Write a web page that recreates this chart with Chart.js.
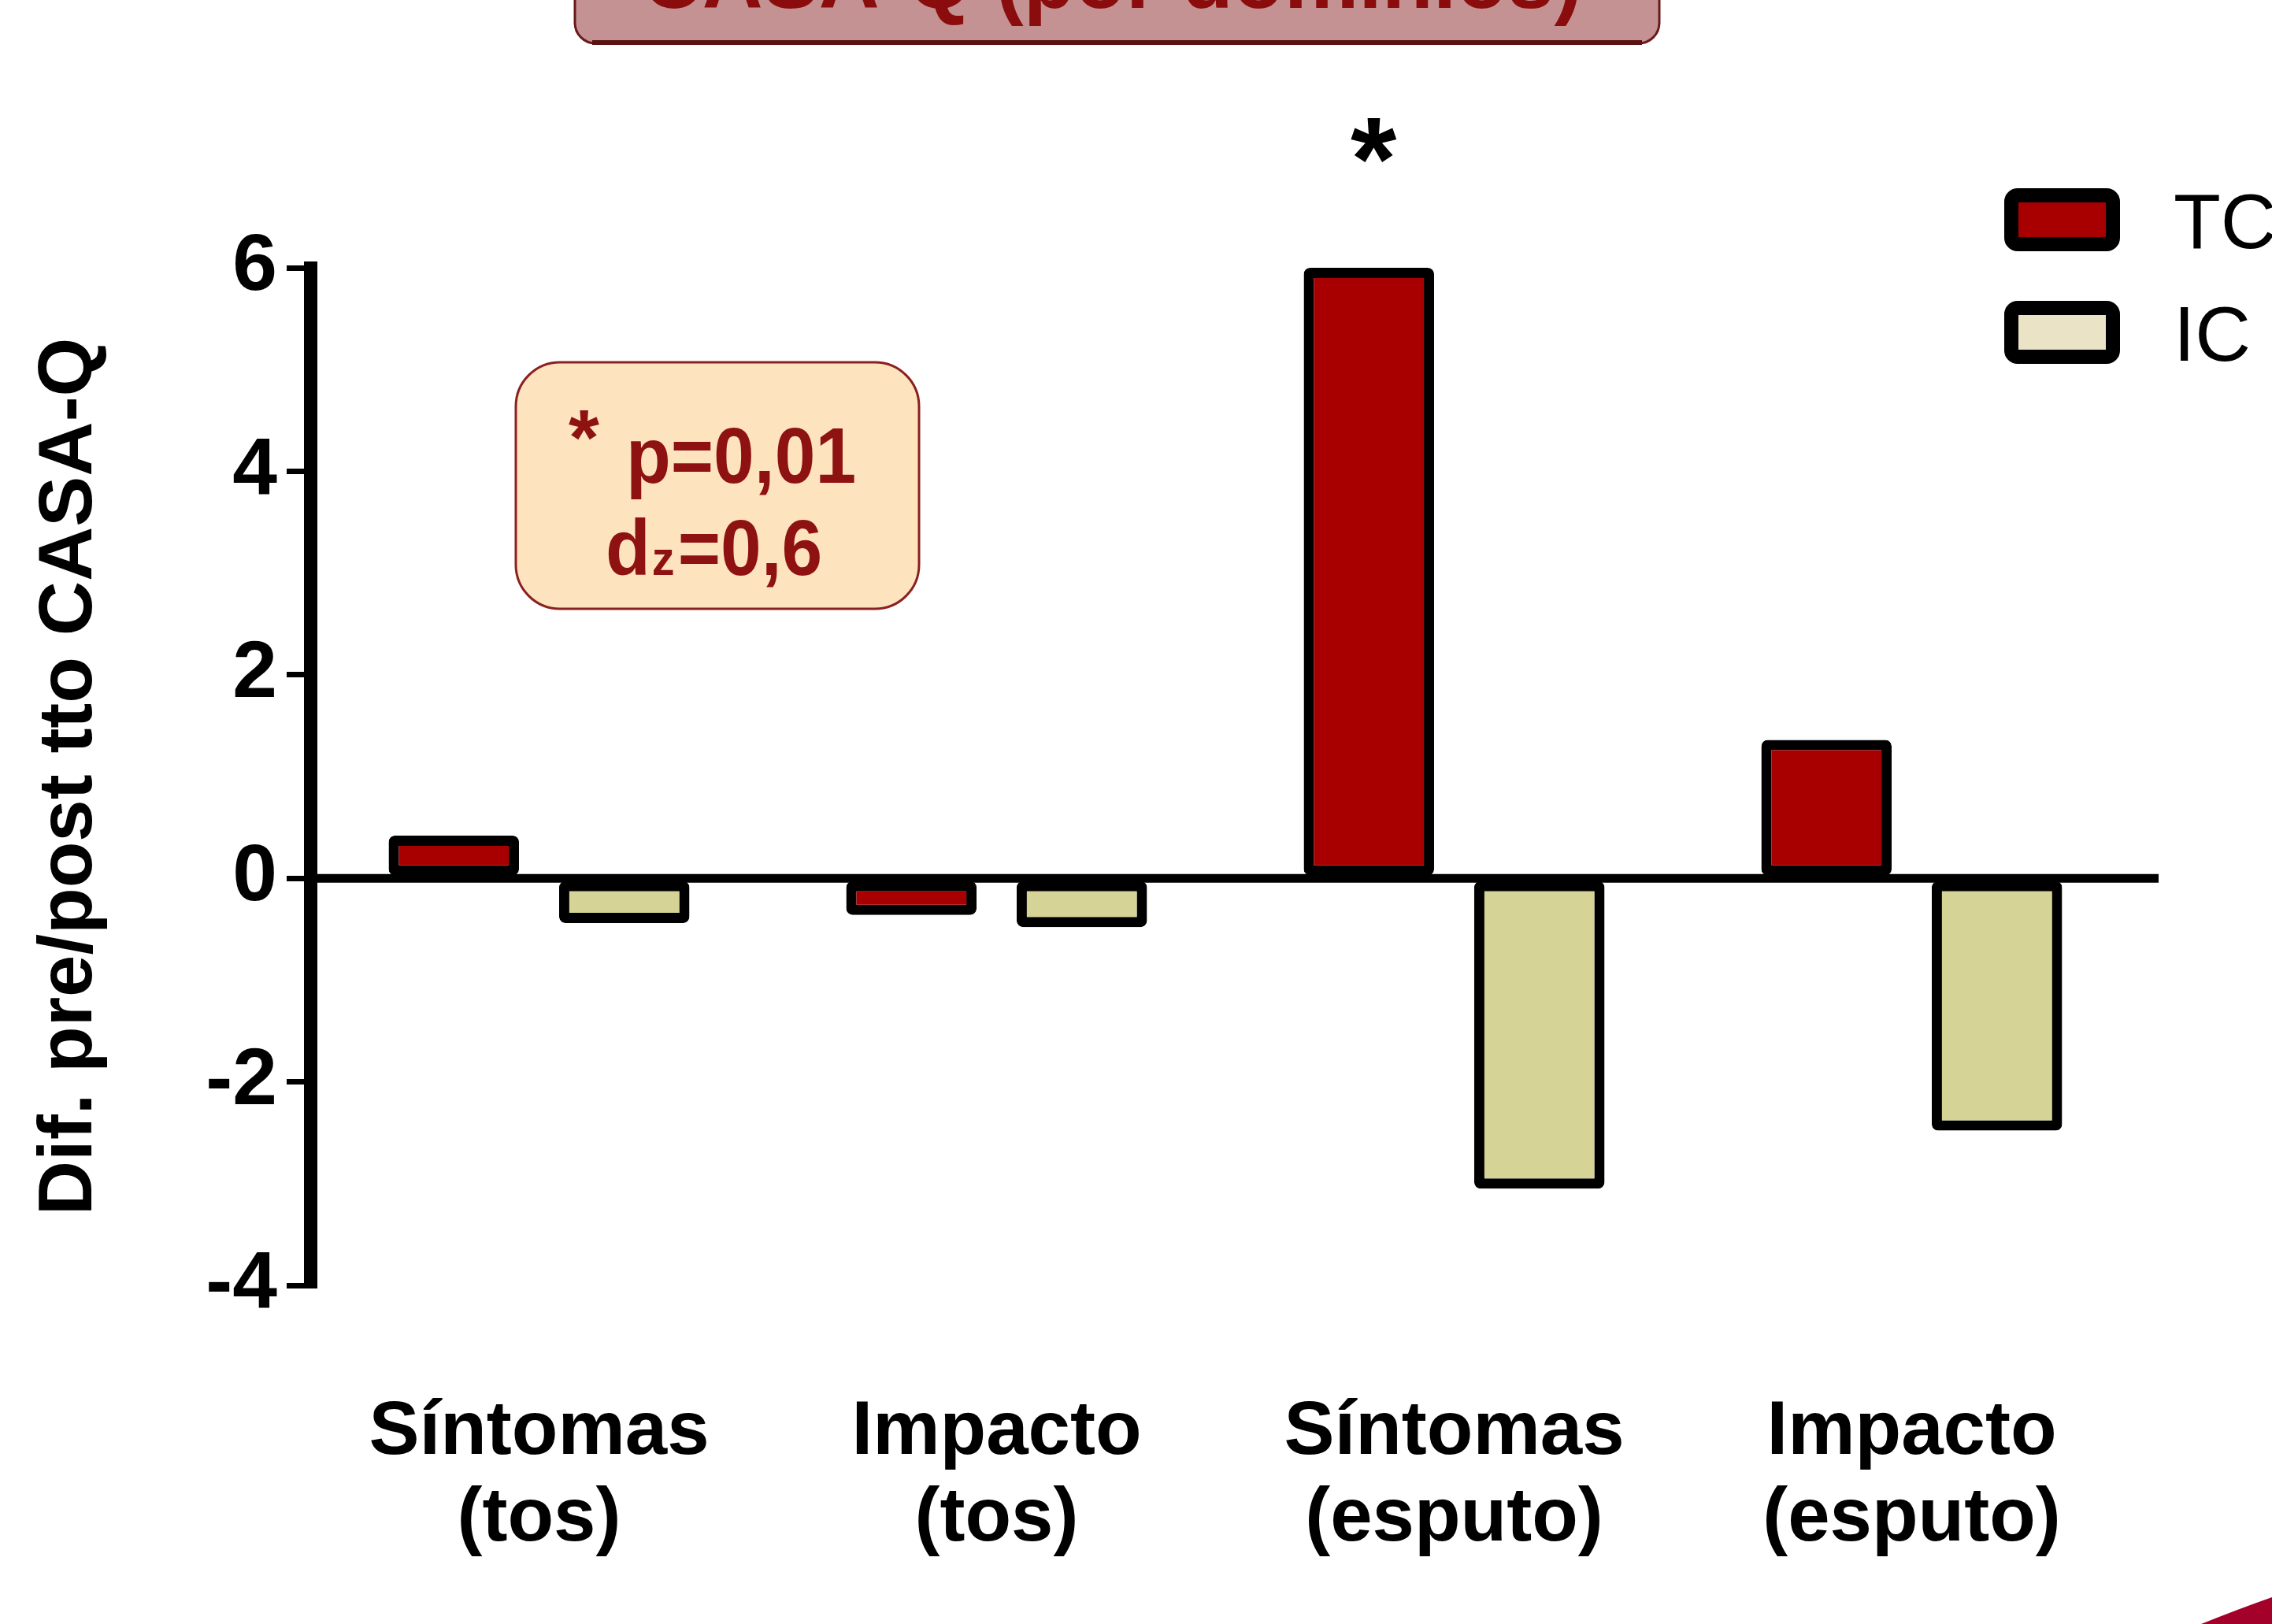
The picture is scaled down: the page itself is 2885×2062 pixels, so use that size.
<!DOCTYPE html>
<html>
<head>
<meta charset="utf-8">
<script src="https://cdn.jsdelivr.net/npm/chart.js@4.4.1/dist/chart.umd.min.js"></script>
<style>
body { margin: 0; background: #ffffff; }
#casachart { display: block; }
</style>
</head>
<body>
<canvas id="casachart" width="2885" height="2062"></canvas>
<script>
// values
const categories = [["Síntomas", "(tos)"], ["Impacto", "(tos)"], ["Síntomas", "(esputo)"], ["Impacto", "(esputo)"]];
const seriesNames = ["TC", "IC"];
const tcValues = [0.42, -0.36, 6.0, 1.36];
const icValues = [-0.44, -0.48, -3.05, -2.48];
const yMin = -4;
const yMax = 6;
const yStep = 2;
const yTitle = "Dif. pre/post tto CASA-Q";
const slideTitle = "CASA-Q (por dominios)";
const starBar = 2;   // TC bar marked with *
const noteP = "p=0,01";
const noteD = "=0,6";

const tcColor = "#a80000";
const icColor = "#d6d396";
const noteColor = "#8e1212";

function fitText(ctx, text, x, y, sx) {
    ctx.save();
    ctx.translate(x, y);
    ctx.scale(sx, 1);
    ctx.fillText(text, 0, 0);
    ctx.restore();
    return ctx.measureText(text).width * sx;
}

const slideExtras = {
    id: 'slideExtras',
    afterDatasetsDraw(chart) {
        let ctx = chart.ctx;
        let area = chart.chartArea;
        let zero = chart.scales.y.getPixelForValue(0);
        ctx.save();
        ctx.strokeStyle = "#000";
        ctx.lineWidth = 11;
        ctx.beginPath();
        ctx.moveTo(area.left, zero);
        ctx.lineTo(2741, zero);
        ctx.stroke();
        ctx.restore();
    },
    afterDraw(chart) {
        let ctx = chart.ctx;
        ctx.save();

        // slide title box, cut off by the top edge
        ctx.fillStyle = "#c49292";
        ctx.strokeStyle = "#6a1a1a";
        ctx.lineWidth = 3;
        ctx.beginPath();
        ctx.roundRect(730, -80, 1377, 135, 26);
        ctx.fill();
        ctx.stroke();
        ctx.lineWidth = 6;
        ctx.strokeStyle = "#5a1212";
        ctx.beginPath();
        ctx.moveTo(752, 54);
        ctx.lineTo(2085, 54);
        ctx.stroke();
        ctx.fillStyle = "#8b0c0c";
        ctx.font = "bold 112px 'Liberation Sans', Arial, sans-serif";
        ctx.textBaseline = "alphabetic";
        let tw = ctx.measureText(slideTitle).width * 0.95;
        fitText(ctx, slideTitle, 1412 - tw / 2, 10, 0.95);

        // significance star above the TC bar
        let bar = chart.getDatasetMeta(0).data[starBar];
        ctx.fillStyle = "#000";
        ctx.font = "bold 150px 'Liberation Sans', Arial, sans-serif";
        let m = ctx.measureText("*");
        let starY = bar.y - 162;
        ctx.textAlign = "center";
        ctx.fillText("*", bar.x + 6, starY + (m.actualBoundingBoxAscent - m.actualBoundingBoxDescent) / 2);
        ctx.textAlign = "left";

        // p-value note
        ctx.fillStyle = "#fde4bf";
        ctx.strokeStyle = "#8b2020";
        ctx.lineWidth = 3;
        ctx.beginPath();
        ctx.roundRect(655, 460, 512, 313, 56);
        ctx.fill();
        ctx.stroke();
        ctx.fillStyle = noteColor;
        ctx.font = "bold 100px 'Liberation Sans', Arial, sans-serif";
        fitText(ctx, "*", 722, 590, 1);
        fitText(ctx, noteP, 795, 613, 0.93);
        let x = 769;
        x += fitText(ctx, "d", x, 730, 0.93) + 2;
        ctx.font = "bold 62px 'Liberation Sans', Arial, sans-serif";
        x += fitText(ctx, "z", x, 730, 0.93) + 4;
        ctx.font = "bold 100px 'Liberation Sans', Arial, sans-serif";
        fitText(ctx, noteD, x, 730, 0.93);

        // legend
        let legendFills = ["#a80000", "#ebe3c6"];
        let legendTops = [239, 382];
        ctx.font = "98px 'Liberation Sans', Arial, sans-serif";
        for (let i = 0; i < seriesNames.length; i++) {
            ctx.fillStyle = legendFills[i];
            ctx.strokeStyle = "#000";
            ctx.lineWidth = 18;
            ctx.beginPath();
            ctx.roundRect(2554, legendTops[i] + 9, 129, 62, 8);
            ctx.fill();
            ctx.stroke();
            ctx.fillStyle = "#000";
            ctx.fillText(seriesNames[i], 2760, legendTops[i] + 76);
        }

        // slide decoration, bottom right
        ctx.fillStyle = "#a3002a";
        ctx.beginPath();
        ctx.moveTo(2795, 2062);
        ctx.quadraticCurveTo(2845, 2042, 2885, 2028);
        ctx.lineTo(2885, 2062);
        ctx.closePath();
        ctx.fill();

        ctx.restore();
    }
};

let select = document.getElementById("casachart");
let currentchart = new Chart(select, {
    type: 'bar',
    data: {
        labels: categories,
        datasets: [{
            label: seriesNames[0],
            data: tcValues,
            backgroundColor: tcColor,
            borderColor: "#000",
            borderWidth: 13,
            borderRadius: 8,
            borderSkipped: false,
            categoryPercentage: 0.745,
            barPercentage: 0.765
        },
        {
            label: seriesNames[1],
            data: icValues,
            backgroundColor: icColor,
            borderColor: "#000",
            borderWidth: 13,
            borderRadius: 8,
            borderSkipped: false,
            categoryPercentage: 0.745,
            barPercentage: 0.765
        }]
    },
    options: {
        responsive: false,
        devicePixelRatio: 1,
        animation: false,
        events: [],
        layout: {
            padding: { top: 340, right: 167, bottom: 0, left: 0 }
        },
        plugins: {
            legend: { display: false },
            tooltip: { enabled: false }
        },
        scales: {
            x: {
                grid: { display: false, drawTicks: false },
                border: { display: false },
                ticks: {
                    color: "#000",
                    padding: 132,
                    maxRotation: 0,
                    autoSkip: false,
                    font: { family: "'Liberation Sans', Arial, sans-serif", size: 96, weight: 'bold', lineHeight: 1.15 }
                },
                afterFit(scale) { scale.height = 430; }
            },
            y: {
                min: yMin,
                max: yMax,
                grid: {
                    drawOnChartArea: false,
                    drawTicks: true,
                    tickLength: 30,
                    lineWidth: 7,
                    color: "#000"
                },
                border: { display: true, width: 17, color: "#000" },
                ticks: {
                    stepSize: yStep,
                    color: "#000",
                    padding: 12,
                    font: { family: "'Liberation Sans', Arial, sans-serif", size: 102, weight: 'bold' }
                },
                title: {
                    display: true,
                    text: yTitle,
                    color: "#000",
                    padding: { top: 32, bottom: 0 },
                    font: { family: "'Liberation Sans', Arial, sans-serif", size: 96, weight: 'bold' }
                },
                afterFit(scale) { scale.width = 394; }
            }
        }
    },
    plugins: [slideExtras]
});
</script>
</body>
</html>
